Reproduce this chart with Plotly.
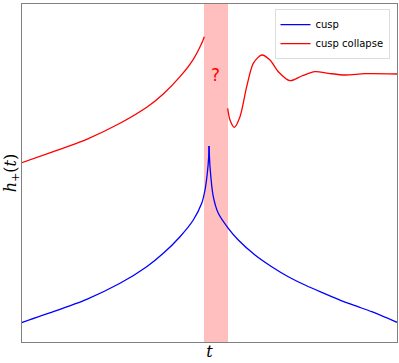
import plotly.graph_objects as go

# cusp waveform (blue)
cusp_t = [-1.88, -1.557, -1.223, -0.89, -0.623, -0.457, -0.29, -0.157, -0.073, -0.04, -0.017, -0.003, 0.0,
          0.01, 0.043, 0.093, 0.193, 0.293, 0.46, 0.627, 0.793, 0.96, 1.127, 1.293, 1.46, 1.627, 1.88]
cusp_h = [0.192, 0.303, 0.427, 0.587, 0.753, 0.887, 1.053, 1.22, 1.387, 1.52, 1.687, 1.853, 1.96,
          1.753, 1.453, 1.287, 1.137, 1.02, 0.87, 0.753, 0.653, 0.57, 0.497, 0.427, 0.363, 0.303, 0.197]

# cusp collapse (red), before and after the unknown region
pre_t = [-1.88, -1.557, -1.223, -0.89, -0.623, -0.457, -0.29, -0.157, -0.073, -0.047]
pre_h = [1.79, 1.903, 2.027, 2.187, 2.347, 2.48, 2.653, 2.827, 2.987, 3.053]
post_t = [0.187, 0.21, 0.253, 0.31, 0.377, 0.443, 0.527, 0.61, 0.693, 0.81, 0.927, 1.06, 1.193, 1.36, 1.56, 1.88]
post_h = [2.337, 2.22, 2.147, 2.253, 2.553, 2.787, 2.87, 2.82, 2.703, 2.613, 2.66, 2.703, 2.687, 2.67, 2.683, 2.68]

band = [-0.05, 0.19]

fig = go.Figure()

peak = cusp_h.index(max(cusp_h))
fig.add_trace(go.Scatter(x=cusp_t[:peak + 1], y=cusp_h[:peak + 1], mode='lines', name='cusp',
                         legendgroup='cusp', line=dict(color='blue', width=1.3, shape='spline', smoothing=0.6)))
fig.add_trace(go.Scatter(x=cusp_t[peak:], y=cusp_h[peak:], mode='lines', name='cusp', showlegend=False,
                         legendgroup='cusp', line=dict(color='blue', width=1.3, shape='spline', smoothing=0.6)))
fig.add_trace(go.Scatter(x=pre_t, y=pre_h, mode='lines', name='cusp collapse', legendgroup='col',
                         line=dict(color='red', width=1.3, shape='spline', smoothing=0.6)))
fig.add_trace(go.Scatter(x=post_t, y=post_h, mode='lines', name='cusp collapse', showlegend=False,
                         legendgroup='col', line=dict(color='red', width=1.3, shape='spline', smoothing=0.8)))

fig.add_vrect(x0=band[0], x1=band[1], fillcolor='rgba(255,0,0,0.25)', line_width=0, layer='below')
fig.add_annotation(x=0.06, y=2.67, text='?', showarrow=False,
                   font=dict(family='DejaVu Sans', size=17, color='red'))

fig.update_layout(
    width=399, height=363,
    margin=dict(l=22, r=2, t=4, b=21, autoexpand=False),
    plot_bgcolor='white', paper_bgcolor='white',
    legend=dict(x=0.98, y=0.985, xanchor='right', yanchor='top', bgcolor='white',
                bordercolor='#dddddd', borderwidth=1, font=dict(family='DejaVu Sans', size=10, color='black'),
                tracegroupgap=0, itemwidth=30),
    showlegend=True,
)
fig.update_xaxes(range=[-1.87, 1.88], showticklabels=False, ticks='', showgrid=False, zeroline=False,
                 showline=True, mirror=True, linecolor='#808080', linewidth=1, automargin=False,
                 title=dict(text='<i>t</i>', standoff=3, font=dict(family='DejaVu Serif', size=16, color='black')))
fig.update_yaxes(range=[0, 3.38], showticklabels=False, ticks='', showgrid=False, zeroline=False,
                 showline=True, mirror=True, linecolor='#808080', linewidth=1, automargin=False,
                 title=dict(text='<i>h</i><sub>+</sub>(<i>t</i>)', standoff=0,
                            font=dict(family='DejaVu Serif', size=16, color='black')))

# the page body has a default 8px margin; drop it so the figure sits at the corner
fig.write_html("out.html", config={'displayModeBar': False},
               post_script="document.body.style.margin='0';")
